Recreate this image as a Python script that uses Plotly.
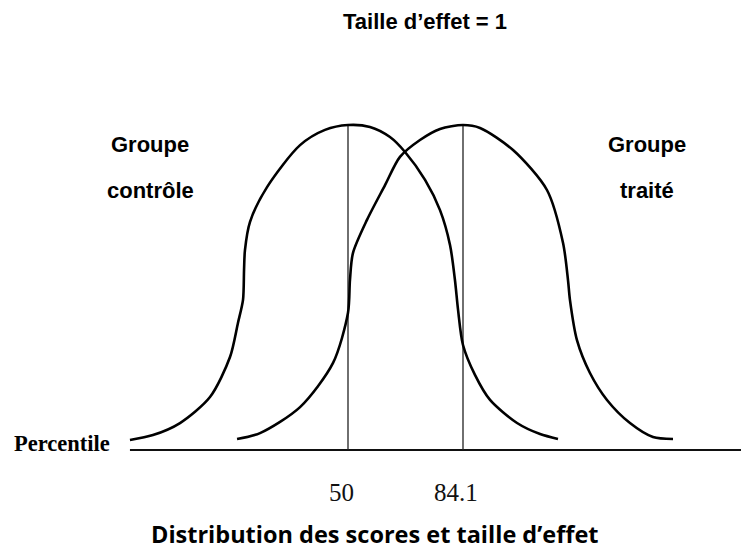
import plotly.graph_objects as go

# ---- data (x in standard-deviation units, y as relative density) ----
control_x = [-1.896, -1.696, -1.461, -1.200, -1.026, -0.957, -0.913, -0.904, -0.896, -0.852,
             -0.704, -0.417, -0.200, 0.000, 0.191, 0.365, 0.496, 0.670, 0.800, 0.887,
             0.930, 0.957, 1.000, 1.104, 1.235, 1.470, 1.670, 1.826]
control_y = [0.031, 0.046, 0.083, 0.163, 0.286, 0.391, 0.462, 0.554, 0.615, 0.702,
             0.809, 0.938, 0.985, 1.000, 0.994, 0.963, 0.917, 0.831, 0.738, 0.631,
             0.523, 0.431, 0.323, 0.231, 0.154, 0.083, 0.049, 0.034]

treated_x = [-0.965, -0.765, -0.417, -0.130, 0.000, 0.017, 0.043, 0.165, 0.322, 0.452,
             0.626, 0.800, 1.000, 1.148, 1.435, 1.730, 1.870, 1.913, 1.930, 1.991,
             2.104, 2.252, 2.452, 2.652, 2.826]
treated_y = [0.034, 0.052, 0.132, 0.268, 0.422, 0.523, 0.606, 0.708, 0.815, 0.902,
             0.954, 0.988, 1.000, 0.991, 0.923, 0.800, 0.637, 0.523, 0.462, 0.338,
             0.237, 0.154, 0.083, 0.040, 0.034]

means = [0.0, 1.0]
mean_labels = ["50", "84.1"]
peak_height = 1.0
baseline_start = -1.896

# page body has an 8px margin; figure is sized so it ends at the window edge
OFF = 8
W, H = 749 - OFF, 555 - OFF

# axis ranges chosen so that 1 SD ~ 115 px and peak height ~ 325 px
X_RANGE = [(OFF - 348) / 115, (OFF + W - 348) / 115]
Y_RANGE = [(450 - (OFF + H)) / 325, (450 - OFF) / 325]

def px(xp):
    return (xp - OFF) / W

def py(yp):
    return 1 - (yp - OFF) / H

fig = go.Figure()

# baseline
fig.add_trace(go.Scatter(x=[baseline_start, X_RANGE[1]], y=[0, 0], mode="lines",
                         line=dict(color="#111111", width=2.2), hoverinfo="skip"))

# vertical lines at means
for m in means:
    fig.add_trace(go.Scatter(x=[m, m], y=[0, peak_height], mode="lines",
                             line=dict(color="#222222", width=1.3), hoverinfo="skip"))

# curves
for xs, ys in [(control_x, control_y), (treated_x, treated_y)]:
    fig.add_trace(go.Scatter(x=xs, y=ys, mode="lines",
                             line=dict(color="#000000", width=2.6, shape="spline", smoothing=0.8),
                             hoverinfo="skip"))

ann = []
sans = "Liberation Sans, Arial, sans-serif"
serif = "Liberation Serif, Times New Roman, serif"

def add(text, xp, yp, family, size, xanchor="center", color="#000"):
    ann.append(dict(text=text, x=px(xp), y=py(yp), xref="paper", yref="paper",
                    xanchor=xanchor, yanchor="middle", showarrow=False,
                    font=dict(family=family, size=size, color=color)))

add("<b>Taille d’effet = 1</b>", 425, 21, sans, 22)
add("<b>Groupe</b>", 150, 145, sans, 22)
add("<b>contrôle</b>", 150, 191, sans, 22)
add("<b>Groupe</b>", 647, 145, sans, 22)
add("<b>traité</b>", 647, 191, sans, 22)
add("<b>Percentile</b>", 12, 443, serif, 22.5, xanchor="left")
for m, lab in zip(means, mean_labels):
    ann.append(dict(text=lab, x=m, y=py(493), xref="x", yref="paper", xshift=-7,
                    xanchor="center", yanchor="middle", showarrow=False,
                    font=dict(family=serif, size=25, color="#111")))
add("<b>Distribution des scores et taille d’effet</b>", 375, 534, "Open Sans, Lato, sans-serif", 23.5)

fig.update_layout(
    width=W, height=H,
    margin=dict(l=0, r=0, t=0, b=0),
    paper_bgcolor="white", plot_bgcolor="white",
    showlegend=False,
    xaxis=dict(range=X_RANGE, visible=False, fixedrange=True),
    yaxis=dict(range=Y_RANGE, visible=False, fixedrange=True),
    annotations=ann,
)

fig.write_html("out.html")
